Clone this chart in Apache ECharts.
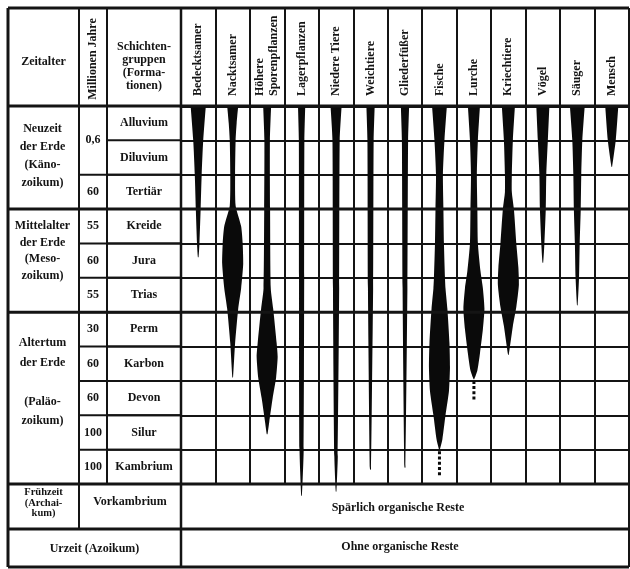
<!DOCTYPE html>
<html>
<head>
<meta charset="utf-8">
<script src="https://cdn.jsdelivr.net/npm/echarts@6/dist/echarts.min.js"></script>
<style>
  html, body { margin: 0; padding: 0; background: #fff; }
  #chart { width: 630px; height: 569px; }
</style>
</head>
<body>
<div id="chart"></div>
<script>
// columns of the spindle diagram
const taxa = ['Bedecktsamer', 'Nacktsamer', 'Höhere\nSporenpflanzen', 'Lagerpflanzen', 'Niedere Tiere',
  'Weichtiere', 'Gliederfüßer', 'Fische', 'Lurche', 'Kriechtiere', 'Vögel', 'Säuger', 'Mensch'];
// rows: formations, top (youngest) to bottom
const formations = ['Alluvium', 'Diluvium', 'Tertiär', 'Kreide', 'Jura', 'Trias',
  'Perm', 'Karbon', 'Devon', 'Silur', 'Kambrium'];
// duration in million years, with number of rows each cell spans
const durations = ['0,6', '60', '55', '60', '55', '30', '60', '60', '100', '100'];
const durationSpans = [2, 1, 1, 1, 1, 1, 1, 1, 1, 1];
// eras and the formation rows they cover
const eras = [
  { lines: ['Neuzeit', 'der Erde', '(Käno-', 'zoikum)'], from: 0, to: 3 },
  { lines: ['Mittelalter', 'der Erde', '(Meso-', 'zoikum)'], from: 3, to: 6 },
  { lines: ['Altertum', 'der Erde', '', '(Paläo-', 'zoikum)'], from: 6, to: 11 }
];

// spindle breadth (% of column width) at row position (0 = top of Alluvium, 11 = base of Kambrium)
const bedecktsamer = [[0, 44], [1, 29], [2, 20], [3, 14], [4, 7], [4.4, 2]];
const nacktsamer = [[0, 32], [0.5, 23], [1, 17], [2, 14], [2.9, 17], [3.5, 49], [4, 58], [4.6, 61], [5.3, 49], [5.9, 32], [6.9, 14], [7.9, 2]];
const sporenpflanzen = [[0, 23], [1, 16], [3, 17], [5.3, 21], [5.9, 35], [6.9, 55], [7.3, 61], [7.9, 52], [8.5, 32], [9.2, 12], [9.55, 2]];
const lagerpflanzen = [[0, 21], [1, 16], [5, 15], [10, 12], [11.34, 2]];
const niedereTiere = [[0, 32], [1, 21], [5.3, 18], [10.2, 10], [11.22, 2]];
const weichtiere = [[0, 24], [1, 18], [5.3, 15], [10.58, 3]];
const gliederfuesser = [[0, 24], [1, 18], [5.3, 14], [10.52, 3]];
const fische = [[0, 43], [1, 29], [2, 20], [3, 23], [4, 26], [5, 32], [5.3, 35], [5.9, 46], [6.9, 58], [7.6, 61], [8.3, 55], [9, 35], [9.7, 17], [10, 2]];
const lurche = [[0, 35], [1, 23], [2, 17], [3, 20], [4, 23], [4.8, 38], [5.3, 52], [5.9, 61], [6.5, 52], [7.2, 35], [7.7, 20], [7.95, 2]];
const kriechtiere = [[0, 38], [1, 26], [2, 20], [2.5, 20], [3, 32], [4, 46], [4.7, 58], [5.2, 61], [5.85, 46], [6.4, 26], [7.24, 2]];
const voegel = [[0, 38], [1, 29], [2, 20], [3, 17], [4, 9], [4.56, 2]];
const saeuger = [[0, 43], [1, 29], [2, 23], [3, 20], [4, 14], [5, 10], [5.8, 2]];
const mensch = [[0, 38], [1, 23], [1.77, 2]];
const profiles = [bedecktsamer, nacktsamer, sporenpflanzen, lagerpflanzen, niedereTiere, weichtiere,
  gliederfuesser, fische, lurche, kriechtiere, voegel, saeuger, mensch];
// uncertain earlier occurrence (dotted), [column, from row, to row]
const dotted = [[7, 10.05, 10.8], [8, 8.0, 8.55]];

// ---- layout of the table
const ink = '#141414';
const fontFam = '"Liberation Serif", "DejaVu Serif", serif';
const font = 'bold 12px ' + fontFam;
const X0 = 8, X1 = 79, X2 = 107, X3 = 181, XR = 629;
const Y0 = 8, YH = 106, YG = 484, YV = 529, YB = 567;
const rowH = (YG - YH) / formations.length;
const rowY = r => YH + r * rowH;

function line(x1, y1, x2, y2, w) {
  return { type: 'line', silent: true, z: 20, shape: { x1, y1, x2, y2 }, style: { stroke: ink, lineWidth: w } };
}
function label(text, x, y, opt) {
  opt = opt || {};
  return {
    type: 'text', silent: true, z: 20, x: x, y: y, rotation: opt.rotation || 0,
    style: {
      text: text, x: 0, y: 0, font: opt.font || font, fill: ink,
      align: 'center', verticalAlign: 'middle', lineHeight: opt.lineHeight || 14
    }
  };
}

const graphics = [];
// outer frame and main verticals
graphics.push(line(X0, Y0, XR, Y0, 3), line(X0, YB, XR, YB, 3));
graphics.push(line(X0, Y0, X0, YB, 3), line(XR, Y0, XR, YB, 2));
graphics.push(line(X1, Y0, X1, YV, 2), line(X2, Y0, X2, YG, 2), line(X3, Y0, X3, YB, 2.5));
// thick horizontal separators
graphics.push(line(X0, YH, XR, YH, 3), line(X0, YG, XR, YG, 3), line(X0, YV, XR, YV, 3));
eras.forEach(e => { if (e.to < formations.length) graphics.push(line(X0, rowY(e.to), XR, rowY(e.to), 3)); });
// row lines in the formation / duration columns
let r0 = 0;
durations.forEach((d, i) => {
  const span = durationSpans[i];
  graphics.push(label(d, (X1 + X2) / 2, rowY(r0 + span / 2)));
  r0 += span;
  if (r0 < formations.length) graphics.push(line(X1, rowY(r0), X3, rowY(r0), 2));
});
formations.forEach((f, i) => {
  graphics.push(label(f, (X2 + X3) / 2, rowY(i + 0.5)));
  if (i > 0) graphics.push(line(X2, rowY(i), X3, rowY(i), 2));
});
const eraLH = [18, 16.5, 19.5];
const eraShift = [-1.5, -9.5, -16];
eras.forEach((e, i) => {
  graphics.push(label(e.lines.join('\n'), (X0 + X1) / 2 - 1, (rowY(e.from) + rowY(e.to)) / 2 + eraShift[i], { lineHeight: eraLH[i] }));
});
// header
graphics.push(label('Zeitalter', (X0 + X1) / 2, 62));
graphics.push(label('Millionen Jahre', (X1 + X2) / 2, 59, { rotation: Math.PI / 2 }));
graphics.push(label('Schichten-\ngruppen\n(Forma-\ntionen)', (X2 + X3) / 2, 66, { lineHeight: 13 }));
// bottom rows
graphics.push(label('Frühzeit\n(Archai-\nkum)', (X0 + X1) / 2, 503, { lineHeight: 10.5, font: 'bold 10.5px ' + fontFam }));
graphics.push(label('Vorkambrium', (X1 + X3) / 2, 502));
graphics.push(label('Spärlich organische Reste', 398, 508));
graphics.push(label('Urzeit (Azoikum)', (X0 + X3) / 2, 549));
graphics.push(label('Ohne organische Reste', 400, 547));

const chart = echarts.init(document.getElementById('chart'));
chart.setOption({
  backgroundColor: '#fff',
  animation: false,
  grid: { left: X3, top: YH, right: 630 - XR, bottom: 569 - YG, outerBoundsMode: 'none' },
  xAxis: {
    type: 'category', position: 'top', data: taxa, boundaryGap: true,
    axisLine: { show: true, lineStyle: { color: ink, width: 3 } },
    axisTick: { show: true, inside: false, length: YH - Y0, interval: 0, lineStyle: { color: ink, width: 2 } },
    splitLine: { show: true, interval: 0, lineStyle: { color: ink, width: 2 } },
    axisLabel: {
      interval: 0, rotate: 90, margin: 10, color: ink, fontFamily: fontFam,
      fontWeight: 'bold', fontSize: 12, lineHeight: 14, align: 'left'
    }
  },
  yAxis: {
    type: 'value', inverse: true, min: 0, max: formations.length, interval: 1,
    axisLine: { show: false }, axisTick: { show: false }, axisLabel: { show: false },
    splitLine: { show: true, lineStyle: { color: ink, width: 2 } }
  },
  graphic: { elements: graphics },
  series: [
    {
      type: 'custom',
      clip: false,
      z: 5,
      data: taxa.map((t, i) => [i, 0]),
      renderItem: function (params, api) {
        const col = api.value(0);
        const colW = api.size([1, 0])[0];
        const left = [], right = [];
        profiles[params.dataIndex].forEach(p => {
          const c = api.coord([col, p[0]]);
          const hw = colW * p[1] / 200;
          left.push([c[0] - hw, c[1]]);
          right.unshift([c[0] + hw, c[1]]);
        });
        // repeat the flat top corners so smoothing keeps them square
        left.unshift(left[0].slice());
        right.push(right[right.length - 1].slice());
        return {
          type: 'polygon',
          shape: { points: left.concat(right), smooth: 0.2 },
          style: { fill: '#0a0a0a' }
        };
      }
    },
    {
      type: 'custom',
      clip: false,
      z: 5,
      data: dotted,
      renderItem: function (params, api) {
        const a = api.coord([api.value(0), api.value(1)]);
        const b = api.coord([api.value(0), api.value(2)]);
        return {
          type: 'line', shape: { x1: a[0], y1: a[1], x2: b[0], y2: b[1] },
          style: { stroke: '#0a0a0a', lineWidth: 3, lineDash: [3, 2.2] }
        };
      }
    }
  ]
});
</script>
</body>
</html>
